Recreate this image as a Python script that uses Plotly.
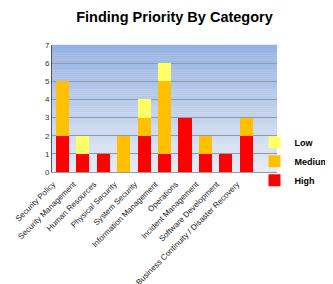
import plotly.graph_objects as go

categories = ["Security Policy", "Security Management", "Human Resources", "Physical Security",
              "System Security", "Information Management", "Operations", "Incident Management",
              "Software Development", "Business Continuity / Disaster Recovery"]
high = [2, 1, 1, 0, 2, 1, 3, 1, 1, 2]
medium = [3, 0, 0, 2, 1, 4, 0, 1, 0, 1]
low = [0, 1, 0, 0, 1, 1, 0, 0, 0, 0]
y_ticks = [0, 1, 2, 3, 4, 5, 6, 7]

fig = go.Figure()
for name, vals, col in [("High", high, "#FF0000"), ("Medium", medium, "#FFC000"), ("Low", low, "#FFFF66")]:
    fig.add_trace(go.Bar(x=categories, y=vals, name="<b>%s</b>" % name, marker_color=col,
                         marker_line_width=0, width=0.64))
# label-only axis (slightly offset so label ends sit under bar centres)
fig.add_trace(go.Scatter(x=categories, y=[None] * len(categories), xaxis="x2",
                         showlegend=False, hoverinfo="skip", mode="markers"))

# gradient background
n = 60
top = (0x95, 0xB3, 0xE3)
bot = (0xE6, 0xEB, 0xF5)
shapes = []
for i in range(n):
    t = i / (n - 1)
    c = tuple(int(round(bot[k] + (top[k] - bot[k]) * t)) for k in range(3))
    shapes.append(dict(type="rect", xref="x domain", yref="y domain",
                       x0=0, x1=1, y0=i / n, y1=(i + 1) / n + 0.002,
                       fillcolor="rgb(%d,%d,%d)" % c, line_width=0, layer="below"))

d = 0.45
fig.update_layout(
    width=333, height=284,
    margin=dict(l=44, r=64, t=37, b=120, autoexpand=False),
    barmode="stack", bargap=0.36,
    paper_bgcolor="white", plot_bgcolor="rgba(0,0,0,0)",
    shapes=shapes,
    title=dict(text="<b>Finding Priority By Category</b>", x=0.50, xanchor="center",
               y=0.97, yanchor="middle",
               font=dict(family="Liberation Sans", size=14.5, color="black")),
    font=dict(family="Liberation Sans", size=8, color="#333333"),
    legend=dict(x=0.90, y=0.085, xanchor="left", yanchor="middle", traceorder="reversed",
                bgcolor="rgba(0,0,0,0)",
                font=dict(size=9, color="black", family="Liberation Sans"),
                itemwidth=30, tracegroupgap=0),
    showlegend=True,
    xaxis=dict(type="category", range=[-0.5, 10.5], showgrid=False, showticklabels=False,
               showline=True, linecolor="#8E9AAE", linewidth=1, ticks=""),
    xaxis2=dict(type="category", overlaying="x", anchor="y", side="bottom",
                range=[-0.5 + d, 10.5 + d], showgrid=False, showline=False, ticks="",
                zeroline=False, tickangle=-45, ticklabelstandoff=5,
                tickfont=dict(size=8, color="#222222")),
)
fig.update_yaxes(range=[0, 7], tickvals=y_ticks, showgrid=True, gridcolor="#8E9AAE",
                 gridwidth=1, showline=True, linecolor="#555555", linewidth=1,
                 ticks="", zeroline=False, tickfont=dict(size=8, color="#333333"))

fig.write_html("out.html")
